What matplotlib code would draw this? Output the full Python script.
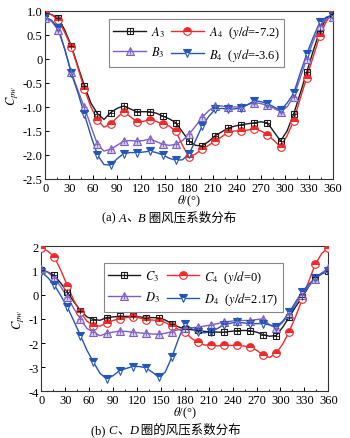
import matplotlib
import matplotlib.pyplot as plt
from matplotlib.legend_handler import HandlerTuple
from matplotlib.lines import Line2D
import numpy as np

matplotlib.use('Agg')

plt.rcParams['font.family'] = ['Liberation Serif', 'Noto Sans CJK SC', 'DejaVu Sans']
plt.rcParams['mathtext.fontset'] = 'stix'

# marker angles: 23 stations around the ring, lines also pass through the mid stations
theta_mark = np.linspace(0, 360, 23)
theta_line = np.linspace(0, 360, 45)

# (a) ring A / B -- values at markers and between markers
a3_mark = [0.95, 0.85, 0.27, -0.56, -1.14, -1.12, -0.98, -1.1, -1.1, -1.19, -1.33, -1.71,
           -1.81, -1.6, -1.44, -1.37, -1.33, -1.33, -1.71, -1.15, -0.28, 0.58, 0.93]
a3_mid = [0.92, 0.6, -0.15, -0.92, -1.26, -1.03, -1.04, -1.1, -1.13, -1.25, -1.52,
          -1.8, -1.72, -1.52, -1.4, -1.35, -1.31, -1.52, -1.5, -0.72, 0.17, 0.85]
a4_mark = [0.97, 0.8, 0.25, -0.63, -1.27, -1.36, -1.1, -1.31, -1.27, -1.36, -1.51, -2.04,
           -1.88, -1.71, -1.53, -1.5, -1.46, -1.58, -1.83, -1.29, -0.39, 0.48, 0.97]
a4_mid = [0.92, 0.55, -0.18, -1.0, -1.42, -1.22, -1.2, -1.3, -1.3, -1.4, -1.8,
          -1.98, -1.8, -1.62, -1.5, -1.48, -1.5, -1.7, -1.6, -0.83, 0.05, 0.78]
b3_mark = [0.85, 0.6, -0.28, -1.01, -1.78, -1.88, -1.71, -1.71, -1.67, -1.78, -1.78, -1.57,
           -1.22, -0.98, -1.01, -1.0, -0.91, -0.97, -1.1, -0.79, 0.0, 0.68, 0.88]
b3_mid = [0.78, 0.2, -0.65, -1.4, -1.92, -1.8, -1.7, -1.7, -1.72, -1.8, -1.7,
          -1.4, -1.08, -0.98, -1.0, -0.95, -0.93, -1.03, -1.0, -0.4, 0.37, 0.83]
b4_mark = [0.88, 0.65, -0.3, -1.15, -2.0, -2.21, -1.97, -1.95, -1.92, -2.0, -2.11, -1.98,
           -1.4, -1.05, -1.05, -1.02, -0.87, -0.93, -1.07, -0.72, 0.1, 0.76, 0.9]
b4_mid = [0.8, 0.2, -0.7, -1.6, -2.2, -2.08, -1.95, -1.94, -1.95, -2.07, -2.1,
          -1.7, -1.2, -1.03, -1.04, -0.95, -0.89, -1.0, -0.92, -0.3, 0.45, 0.87]

# (b) ring C / D
c3_mark = [1.03, 0.79, 0.1, -0.66, -1.03, -0.95, -0.9, -0.9, -0.95, -0.96, -1.2, -1.42,
           -1.48, -1.53, -1.55, -1.49, -1.49, -1.65, -1.69, -0.93, -0.11, 0.72, 0.99]
c3_mid = [0.93, 0.47, -0.3, -0.92, -1.06, -0.92, -0.9, -0.92, -0.95, -1.05, -1.33,
          -1.45, -1.52, -1.55, -1.52, -1.48, -1.55, -1.72, -1.35, -0.5, 0.33, 0.88]
c4_mark = [1.92, 1.55, 0.37, -0.73, -1.28, -1.17, -1.0, -0.92, -1.03, -1.07, -1.3, -1.55,
           -1.97, -2.1, -2.1, -2.1, -2.17, -2.49, -2.42, -1.53, -0.2, 1.25, 1.93]
c4_mid = [1.8, 1.0, -0.25, -1.1, -1.3, -1.07, -0.95, -0.96, -1.05, -1.15, -1.43,
          -1.8, -2.08, -2.12, -2.1, -2.12, -2.3, -2.6, -2.05, -0.9, 0.55, 1.7]
d3_mark = [1.06, 0.7, -0.11, -1.0, -1.55, -1.6, -1.51, -1.55, -1.6, -1.63, -1.53, -1.39,
           -1.35, -1.25, -1.14, -1.07, -1.07, -1.0, -1.39, -0.8, -0.01, 0.65, 1.09]
d3_mid = [0.92, 0.32, -0.58, -1.4, -1.7, -1.55, -1.52, -1.58, -1.63, -1.6, -1.45,
          -1.37, -1.3, -1.2, -1.1, -1.07, -1.03, -1.25, -1.15, -0.4, 0.35, 0.9]
d4_mark = [0.95, 0.4, -0.52, -1.69, -2.79, -3.48, -3.14, -2.97, -3.02, -3.41, -2.59, -1.21,
           -1.55, -1.53, -1.25, -1.14, -1.2, -1.2, -1.32, -0.73, 0.12, 0.68, 0.97]
d4_mid = [0.7, -0.05, -1.1, -2.3, -3.25, -3.35, -3.05, -2.97, -3.2, -3.2, -1.85,
          -1.4, -1.58, -1.4, -1.18, -1.17, -1.2, -1.25, -1.1, -0.3, 0.43, 0.85]

x_ticks = list(range(0, 361, 30))
a_yticks = [1.0, 0.5, 0.0, -0.5, -1.0, -1.5, -2.0, -2.5]
a_ylabels = ['1.0', '0.5', '0', '-0.5', '-1.0', '-1.5', '-2.0', '-2.5']
b_yticks = [2, 1, 0, -1, -2, -3, -4]
b_ylabels = ['2', '1', '0', '-1', '-2', '-3', '-4']

BLACK = '#1a1a1a'
RED = '#ee2b2b'
PURPLE = '#7b5fc2'
BLUE = '#2456b8'
SERIF = ['Liberation Serif', 'Noto Sans CJK SC']
CJK = ['Noto Sans CJK SC', 'DejaVu Sans']


def full_line(mark, mid):
    """Interleave the marker stations with the mid stations."""
    vals = np.empty(len(mark) + len(mid))
    vals[0::2] = mark
    vals[1::2] = mid
    return vals


def draw_series(ax, mark, mid, style):
    ax.plot(theta_line, full_line(mark, mid), color=style['color'], lw=1.0, zorder=2)
    ax.plot(theta_mark, mark, ls='none', marker=style['marker'], ms=style['ms'],
            color=style['color'], mec=style['color'], mew=0.8,
            fillstyle=style['fill'], mfc=style['mfc'], mfcalt='white', zorder=3)
    handle = Line2D([], [], color=style['color'], lw=1.0, marker=style['marker'], ms=style['ms'],
                    mec=style['color'], mew=0.8, fillstyle=style['fill'], mfc=style['mfc'],
                    mfcalt='white')
    if style.get('cross'):
        ax.plot(theta_mark, mark, ls='none', marker='+', ms=style['ms'] * 0.8,
                color=style['color'], mew=0.6, zorder=4)
        cross = Line2D([], [], ls='none', marker='+', ms=style['ms'] * 0.8,
                       color=style['color'], mew=0.6)
        return (handle, cross)
    return handle


styles = [
    dict(color=BLACK, marker='s', ms=5, fill='none', mfc='none', cross=True),
    dict(color=RED, marker='o', ms=5.5, fill='top', mfc=RED),
    dict(color=PURPLE, marker='^', ms=5.5, fill='full', mfc='#d9ccf0', cross=True),
    dict(color=BLUE, marker='v', ms=5.5, fill='top', mfc=BLUE),
]


def setup_axes(ax, yticks, ylabels, ylim, ylabel):
    ax.set_xlim(0, 360)
    ax.set_ylim(*ylim)
    ax.set_xticks(x_ticks)
    ax.set_xticks(range(15, 360, 30), minor=True)
    ax.set_yticks(yticks)
    ax.set_yticklabels(ylabels)
    ax.tick_params(direction='in', labelsize=9, length=3, width=0.7, pad=2)
    ax.tick_params(which='minor', direction='in', length=1.5, width=0.6)
    for s in ax.spines.values():
        s.set_linewidth(0.8)
        s.set_color('#333333')
    ax.set_xlabel(r'$\theta$/(°)', fontsize=9, labelpad=-1)
    ax.set_ylabel(ylabel, fontsize=9, labelpad=1)


def caption(ax, x, y, parts):
    """Write a caption made of pieces in different fonts, one after another."""
    prev = ax.text(x, y, parts[0][0], transform=ax.figure.transFigure, fontsize=9,
                   family=parts[0][1], style=parts[0][2], va='bottom', ha='left')
    for txt, fam, sty in parts[1:]:
        prev = ax.annotate(txt, xy=(1, 0), xycoords=prev, fontsize=9, family=fam, style=sty,
                           va='bottom', ha='left', annotation_clip=False)


fig = plt.figure(figsize=(3.5, 4.39), dpi=100)
ax_a = fig.add_axes([0.129, 0.59, 0.822, 0.383])
ax_b = fig.add_axes([0.118, 0.106, 0.82, 0.331])

handles_a = [draw_series(ax_a, m, d, st) for m, d, st in
             zip([a3_mark, a4_mark, b3_mark, b4_mark], [a3_mid, a4_mid, b3_mid, b4_mid], styles)]
handles_b = [draw_series(ax_b, m, d, st) for m, d, st in
             zip([c3_mark, c4_mark, d3_mark, d4_mark], [c3_mid, c4_mid, d3_mid, d4_mid], styles)]

setup_axes(ax_a, a_yticks, a_ylabels, (-2.5, 1.0), r'$C_{pw}$')
setup_axes(ax_b, b_yticks, b_ylabels, (-4, 2), r'$C_{pw}$')

labels_a = [r'$A_3$', r'$A_4$  ($y/d$=-7.2)', r'$B_3$', r'$B_4$  ($y/d$=-3.6)']
labels_b = [r'$C_3$', r'$C_4$  ($y/d$=0)', r'$D_3$', r'$D_4$  ($y/d$=2.17)']

for ax, hs, labs, anchor in [(ax_a, handles_a, labels_a, (0.2, 0.99)),
                             (ax_b, handles_b, labels_b, (0.195, 0.925))]:
    # order so that ncol=2 fills rows: [3, 4] / [B3, B4]
    order = [0, 2, 1, 3]
    leg = ax.legend([hs[i] for i in order], [labs[i] for i in order], ncol=2,
                    loc='upper left', bbox_to_anchor=anchor, fontsize=9,
                    handler_map={tuple: HandlerTuple(ndivide=1, pad=0)},
                    handlelength=2.6, columnspacing=0.5, handletextpad=0.4,
                    borderpad=0.35, labelspacing=0.45, fancybox=False, framealpha=1)
    leg.get_frame().set_edgecolor('#888888')
    leg.get_frame().set_linewidth(0.8)

caption(ax_a, 0.29, 0.488, [('(a) ', SERIF, 'normal'), ('A', SERIF, 'italic'),
                            ('、', CJK, 'normal'), ('B', SERIF, 'italic'),
                            (' 圈风压系数分布', CJK, 'normal')])
caption(ax_b, 0.26, 0.005, [('(b) ', SERIF, 'normal'), ('C', SERIF, 'italic'),
                            ('、', CJK, 'normal'), ('D', SERIF, 'italic'),
                            (' 圈的风压系数分布', CJK, 'normal')])

fig.savefig('out.png', dpi=100)
plt.close()
